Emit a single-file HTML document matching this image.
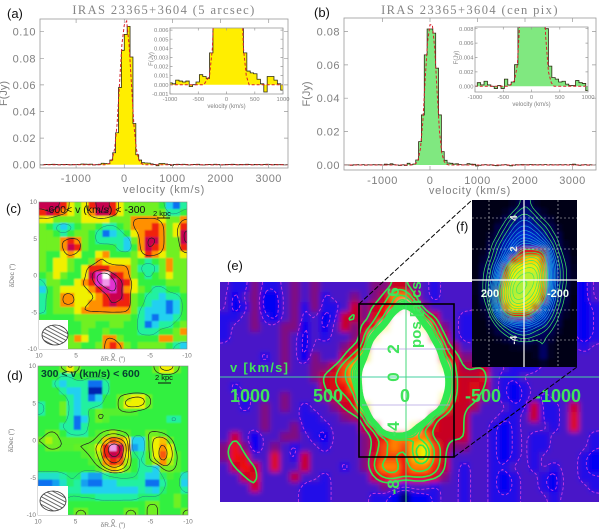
<!DOCTYPE html>
<html lang="en">
<head>
<meta charset="utf-8">
<title>IRAS 23365+3604 spectra and maps</title>
<style>
html,body{margin:0;padding:0;background:#fff;width:600px;height:530px;overflow:hidden}
svg{display:block;font-family:"Liberation Sans",sans-serif}
.idl{font-family:"Liberation Serif",serif;fill:#858585}
.elab{font-weight:bold;fill:#40e45c}
</style>
</head>
<body>
<svg id="root" xmlns="http://www.w3.org/2000/svg" width="600" height="530" viewBox="0 0 600 530">
<defs>
<filter id="blurSmall" filterUnits="userSpaceOnUse" x="-50" y="-50" width="700" height="630"><feGaussianBlur stdDeviation="0.7"/></filter>
<filter id="blurE" filterUnits="userSpaceOnUse" x="-50" y="-50" width="700" height="630"><feGaussianBlur stdDeviation="2.6"/></filter>
<filter id="blurF" filterUnits="userSpaceOnUse" x="-50" y="-50" width="700" height="630"><feGaussianBlur stdDeviation="1.6"/></filter>
<clipPath id="eClip"><rect x="220" y="282" width="379" height="220"/></clipPath>
<pattern id="hatch" patternUnits="userSpaceOnUse" width="3.4" height="3.4" patternTransform="rotate(28)"><line x1="0" y1="1" x2="3.4" y2="1" stroke="#444" stroke-width="0.8"/></pattern>
</defs>
<g id="panelA"></g>
<g id="panelB"></g>
<g id="panelC"></g>
<g id="panelD"></g>
<g id="panelE"></g>

<g clip-path="url(#eClip)">
<line x1="220" y1="377" x2="599" y2="377" stroke="#46d0a0" stroke-width="1"/>
<line x1="406" y1="282" x2="406" y2="502" stroke="#46d878" stroke-width="1"/>
<line x1="362" y1="349" x2="450" y2="349" stroke="#b0a0e0" stroke-width="0.8"/>
<line x1="362" y1="405" x2="450" y2="405" stroke="#b0a0e0" stroke-width="0.8"/>
<text class="elab" x="230" y="372" font-size="13" textLength="58">v [km/s]</text>
<text class="elab" x="250" y="402" font-size="18" text-anchor="middle">1000</text>
<text class="elab" x="328" y="402" font-size="18" text-anchor="middle">500</text>
<text class="elab" x="405" y="402" font-size="18" text-anchor="middle">0</text>
<text class="elab" x="483" y="402" font-size="18" text-anchor="middle">-500</text>
<text class="elab" x="558" y="402" font-size="18" text-anchor="middle">-1000</text>
<text class="elab" font-size="17" text-anchor="middle" transform="translate(399,292) rotate(-90)">6</text>
<text class="elab" font-size="17" text-anchor="middle" transform="translate(399,349) rotate(-90)">2</text>
<text class="elab" font-size="17" text-anchor="middle" transform="translate(399,377) rotate(-90)">0</text>
<text class="elab" font-size="17" text-anchor="middle" transform="translate(399,429) rotate(-90)">-4</text>
<text class="elab" font-size="17" text-anchor="middle" transform="translate(399,487) rotate(-90)">-8</text>
<text class="elab" font-size="15" text-anchor="start" transform="translate(421,348) rotate(-90)">pos [arcsec]</text>
</g>
<g>
<rect x="359" y="304" width="95" height="153" fill="none" stroke="#000" stroke-width="1.6"/>
<line x1="359" y1="304" x2="472" y2="200" stroke="#000" stroke-width="1" stroke-dasharray="5,2"/>
<line x1="454" y1="457" x2="577" y2="367" stroke="#000" stroke-width="1" stroke-dasharray="5,2"/>
</g>

<g id="panelF"></g>

<g>
<line x1="472" y1="280" x2="577" y2="280" stroke="#fff" stroke-width="1.2"/>
<line x1="524" y1="200" x2="524" y2="367" stroke="#fff" stroke-width="1.2"/>
<g stroke="#d8d8d8" stroke-width="0.6" stroke-dasharray="2,2">
<line x1="472" y1="218" x2="577" y2="218"/><line x1="472" y1="249" x2="577" y2="249"/><line x1="472" y1="310" x2="577" y2="310"/><line x1="472" y1="340" x2="577" y2="340"/>
<line x1="489" y1="200" x2="489" y2="367"/><line x1="558" y1="200" x2="558" y2="367"/>
</g>
<text x="490" y="297" fill="#f0fff0" font-size="11" font-weight="bold" text-anchor="middle">200</text>
<text x="558" y="297" fill="#f0fff0" font-size="11" font-weight="bold" text-anchor="middle">-200</text>
<text fill="#e8e8e8" font-size="10" font-weight="bold" text-anchor="middle" transform="translate(517,218) rotate(-90)">4</text>
<text fill="#e8e8e8" font-size="10" font-weight="bold" text-anchor="middle" transform="translate(517,249) rotate(-90)">2</text>
<text fill="#e8e8e8" font-size="10" font-weight="bold" text-anchor="middle" transform="translate(517,340) rotate(-90)">-4</text>
</g>

<g>
<text x="45" y="213" font-size="10.5" fill="#111">-600&lt; v (km/s) &lt; -300</text>
<text x="153" y="216" font-size="7.5" fill="#111">2 kpc</text>
<line x1="157" y1="218" x2="170" y2="218" stroke="#111" stroke-width="1"/>
<rect x="39" y="320" width="29" height="29" fill="#fff"/>
<ellipse cx="55" cy="335" rx="13" ry="10" fill="url(#hatch)" stroke="#333" stroke-width="0.8"/>
</g>
<g>
<text x="41" y="377" font-size="10.5" font-weight="bold" fill="#064030">300 &lt; v (km/s) &lt; 600</text>
<text x="155" y="380" font-size="7.5" fill="#111">2 kpc</text>
<line x1="158" y1="383" x2="171" y2="383" stroke="#111" stroke-width="1"/>
<rect x="38" y="486" width="30" height="29" fill="#fff"/>
<ellipse cx="53" cy="501" rx="13" ry="10" fill="url(#hatch)" stroke="#333" stroke-width="0.8"/>
</g>

<g font-size="13" fill="#111">
<text x="7" y="18">(a)</text>
<text x="314" y="17">(b)</text>
<text x="6" y="213">(c)</text>
<text x="7" y="380">(d)</text>
<text x="227" y="270">(e)</text>
<text x="456" y="231">(f)</text>
</g>
</svg>

<script>
/* ---------- spectra data (Jy), bins start at binStart, width binWidth ---------- */
const binStart = -1800;
const binWidth = 60;
const spectrumA = [.0001,-.0001,.0002,.0001,.0002,.0003,.0001,-.0001,.0001,.0002,.0001,-.0001,.0001,.0002,.0001,.0005,.0004,.0003,.0004,-.0002,.0000,.0003,.0011,.0009,.0007,.0035,.009,.024,.058,.086,.098,.104,.081,.031,.0075,.0035,.0015,.0013,.0012,.0006,.0001,-.0008,.0009,.0009,.0005,.0001,-.0006,.0002,.0003,.0001,.0003,.0002,-.0002,.0001,.0002,.0003,-.0001,-.0002,.0001,.0002,-.0001,.0003,.0001,-.0002,-.0001,.0002,.0001,.0003,.0001,-.0001,.0002,.0000,.0003,.0001,-.0001,.0002,.0001,-.0001,.0002,.0003,.0001,-.0001,.0002,.0000,.0001,-.0001,.0002,.0001,.0000];
const spectrumB = [.0001,.0000,-.0002,.0001,.0002,.0000,.0002,-.0001,.0001,.0001,.0002,.0001,.0002,.0000,.0005,.0002,.0007,.0002,.0000,-.0003,.0001,-.0003,.0010,.0002,.0006,.0030,.014,.030,.066,.0815,.0815,.079,.058,.030,.008,.0028,.0012,.0010,.0006,.0007,.0003,.0001,.0001,.0008,.0005,.0004,-.0006,-.0002,.0001,.0002,-.0001,.0001,-.0003,-.0004,-.0001,.0001,.0002,-.0002,-.0005,-.0001,.0002,.0001,.0003,.0001,.0002,.0003,.0002,.0001,.0002,.0001,.0003,.0000,.0002,.0001,.0001,.0002,.0001,.0002,.0000,.0003,.0005,.0001,-.0002,.0001,.0002,-.0001,.0001,.0000,.0001];
const fitVelocity = [-1800,-400,-300,-250,-200,-150,-100,-50,0,50,100,150,200,250,300,350,400,3500];
const fitA = [0,0,.001,.004,.012,.03,.06,.09,.105,.108,.09,.06,.03,.012,.004,.001,0,0];
const fitB = [0,0,.0008,.003,.010,.026,.052,.074,.084,.084,.07,.044,.02,.007,.002,.0005,0,0];
const mainTicksX = [-1000,0,1000,2000,3000];
const mainTicksYA = [0,.02,.04,.06,.08,.10];
const mainTicksYB = [0,.02,.04,.06,.08];
const insetTicksX = [-1000,-500,0,500,1000];
const insetTicksYA = [-.001,0,.001,.002,.003,.004,.005,.006];
const insetTicksYB = [0,.002,.004,.006,.008];

/* ---------- map c, levels on the colour scale ---------- */
const mapC = [
[9,9,9,8,6,5,6,8,9,9,8,6,5,5,5,5,5,4,2,1,3],
[8,9,8,7,6,5,6,7,9,9,8,6,5,5,5,5,5,5,3,3,4],
[6,6,5,5,5,5,6,6,6,6,5,5,5,7,7,7,7,6,5,5,7],
[5,4,3,2,3,4,5,5,4,3,3,4,5,7,7,7,8,7,5,6,8],
[5,5,4,3,4,5,5,4,3,1,2,3,4,6,7,8,8,7,5,6,9],
[5,5,5,7,8,7,5,4,3,3,3,3,2,5,7,9,9,7,5,5,9],
[5,5,5,7,9,8,5,4,4,4,4,3,2,4,7,9,8,7,5,5,8],
[5,4,4,6,7,6,4,4,6,7,4,4,4,5,6,8,7,6,5,5,6],
[5,4,6,6,5,4,4,5,7,6,6,6,6,5,4,3,4,5,7,5,5],
[5,4,6,6,5,4,6,8,8,8,7,7,7,5,3,3,3,5,7,5,5],
[4,5,6,5,4,4,6,9,10,11,9,8,7,5,4,3,4,5,6,5,5],
[3,5,5,4,4,6,7,8,10,10.5,10,9,8,6,4,4,4,4,5,5,5],
[2,4,5,6,6,6,6,7,8,9.5,10,9,7,6,5,4,3,3,4,4,5],
[3,4,5,7,7,6,6,6,7,8,9,9,8,5,4,3,3,2,3,3,4],
[3,4,5,7,7,6,6,7,7,8,9,8,8,5,4,3,2,2,1,2,4],
[3,4,5,5,5,6,7,7,7,7,7,7,7,5,3,2,2,2,1,2,4],
[4,4,4,4,4,5,5,5,5,5,5,5,5,4,3,2,1,2,2,3,4],
[7,6,5,5,4,4,5,5,4,4,5,5,4,4,3,1,2,3,3,4,5],
[6,5,4,4,4,4,5,4,4,5,4,4,4,4,3,3,3,4,4,5,7],
[5,5,4,4,5,7,6,4,4,7,7,5,4,4,4,4,4,7,7,5,5],
[5,5,4,4,5,5,4,4,5,7,8,7,5,4,5,5,5,5,4,3,2]];

/* ---------- map d ---------- */
const mapD = [
[4,4,4,5,6,5,4,4,4,4,4,4,4,4,4,4,5,6,6,5,4],
[4,4,4,3,3,4,4,4,4,4,4,4,4,4,4,4,4,4,4,4,4],
[4,4,3,2,3,3,3,1,1,3,4,4,4,4,4,4,4,4,4,4,4],
[4,4,4,3,2,2,3,0,0,3,4,4,4,4,4,4,4,4,4,4,4],
[4,4,4,4,3,2,3,1,2,4,4,5,5.5,6,6,5,4,4,4,4,4],
[3,4,4,5,3,2,3,3,3,4,4,5,6,6,6,5,4,4,4,4,4],
[3,4,4,5,3,2,3,4,5,4.6,4.6,4.6,4.6,4.5,4,4,4,4,4,4,4],
[4,4,4,4,3,1,2,4,5,4.6,4,4,4,4,4,4,4,4,3,3,4],
[4,4,4,3,3,1,3,4,4,4,4,4,4,4,4,4,4,4,4,4,4],
[4,5,5,4,3,3,3,4,4.6,5,5.5,5,4.6,4,4,5,5,4.6,4,4,4],
[5,5.5,5,4.6,4.6,4.6,4.6,4.6,5,6.5,7.5,7,6,2,2,5,6,6.5,5,4,4],
[4,5,5,4.6,4.6,4.8,4.8,5,6,8,10.5,9,6.5,1.5,2,5,6,7,6,4,4],
[4,4,4,4,4,4,4.6,4.8,5.5,8,9,8.5,6,3.5,3,4.6,6,7.5,6,4.6,4],
[4,4,4,4,4,4,4,4.6,5,7,8,7.5,5.5,4,3,4.6,5.5,7,5.5,4.6,4],
[4,4,4,4,4,4,4,4,4.6,5.5,6.5,6,5,4,3,3,2,5,5,4.6,4],
[2.5,2.5,2.5,3,3.5,3.5,2,1.5,1.5,3,3.5,3.5,3.5,3.5,3,2,2,3.6,4.4,4,2.5],
[1,1,1.5,2.5,3.5,3,1.5,1,1,2,2,3,3,3,3,1,1,3,4,4,2],
[2,2,2,2.5,3,3,2,2,2,2,2,2,2,2,3,2.5,2,3.5,4,4,3],
[3,3,3,3,3.5,3.5,3.5,3.5,3,3,3,3,3,3,3.5,3.5,3.5,4,4,5,4],
[4,4,4,4,4,4,4,4,4,4,4,4,4,4,4,5,5,4,4,5,4],
[4,4,4,4,4,5,5,4,4,4,4,4,5,5,4,5,5,4,4,4,5]];

/* ---------- map e ---------- */
const mapE = [
[3,2,2,4,2,2,3,4,3,4,3,3,3,3,3,4,4,5,5,4,3,2,3,3,3,3,2,2,2,2,2,2,2,2,2,2,1,3],
[3,1,3,4,1,1,3,4,3,4,2,3,3,4,3,4,5,7,7,5,3,2,3,3,3,3,2,2,2,2,2,2,2,2,2,2,1,3],
[3,1,2,4,1,1,3,4,2,4,2,2,3,5,4,5,6,6.5,9.4,6.5,4,3,3,3,3,3,2,2,2,2,2,2,2,2,2,2,1,2],
[2,2,3,4,2,1,3,4,2,3,1,2,5,5,4,5.5,6,10,12,10.7,6,5,3,3,2,2,2,2,2,2,2,2,2,2,2,2,1,2],
[2,3,3,4,3,3,4,4,1,3,1,3,5,4,5,6,8.7,12,12,12,8.7,6,4,3,2,2,2,2,2,2,2,2,2,2,2,2,1,2],
[2,3,3,3,3,3,4,3,1,3,2,3,3,4,5.5,8.7,12,12,12,12,12,6.8,5,3,2,2,2,2,2,2,2,2,2,2,2,2,1,2],
[3,3,3,3,3,3,4,3,1,3,3,3,4,5,5.5,12,12,12,12,12,12,10,5.5,4.5,3,3,2,2,2,2,2,2,2,2,2,3,2,3],
[3,3,3,3,2,3,4,3,1,4,3,3,5,6,8,12,12,12,12,12,12,12,6.2,5.5,4,4,3,2,2,2,2,2,2,2,2,3,3,3],
[3,3,3,3,3,3,4,3,3,4,4,5,6.5,7.5,9.4,12,12,12,12,12,12,12,8.7,5.5,4.6,4.6,5,3,3,2,2,2,3,3,3,3,3,3],
[3,3,3,3,3,3,3,3,3,4,5,5.5,6.5,7.5,10,12,12,12,12,12,12,12,10,5.5,5,5,5.5,3,2,2,3,3,3,3,3,3,3,3],
[3,2,3,3,3,3,3,3,3,3,5,5.5,6,7,10,12,12,12,12,12,12,12,10,5.5,5,5.5,5,3,2,1,2,3,3,3,3,3,3,3],
[3,3,2,3,3,3,4,3,3,3,4,5,5.5,6,10,12,12,12,12,12,12,12,8.7,5.5,5,5.5,4,3,2,1,2,3,2,3,3,3,3,3],
[3,3,2,3,4,3,4,3,2,3,3,4,5,5.5,8,12,12,12,12,12,12,12,6.8,5,5,4.5,3,3,3,2,2,5,2,2,3,5,3,3],
[3,3,3,3,4,3,3,3,2,2,3,3,4,4.5,5,11.4,12,12,12,12,10.7,5.5,5,5,5,3,3,3,2,2,3,5,2,2,3,5.5,3,3],
[3,3,3,3,4,3,3,4,2,2,2,3,3,3,5,5.5,12,12,12,8.7,6,5.5,5,5,5,3,3,2,1,2,3,3,3,2,3,5.5,3,3],
[3,5,3,1,3,3,4,4,3,2,1,3,3,3,4,5,6,7,7,7,7,5,5,5,5,3,3,2,1,2,3,2,2,3,3,3,3,2],
[4,6,4,1,3,4,3,2,3,3,2,3,3,3,4,5,6.5,7,6.5,7.5,8,6.5,5,4,4,3,3,2,1,2,3,2,2,3,3,3,3,2],
[4,6,5.5,3,3,5.5,3,2,5,3,3,3,3,3,4,5.5,6.5,6.5,6,7.5,8,6.5,5,3,3,3,3,2,1,2,3,2,3,3,3,3,2,1],
[3,5,6,5,3,5.5,3,3,5,3,3,3,2,3,4,6,7,7,6,7,7,6.2,5,3,2,3,3,2,2,3,3,2,3,2,3,3,2,1],
[3,3,5,5.5,3,3,3,4.8,3,3,2,3,3,3,3,5,6,6.5,6,6,6,5.5,4,3,2,3,3,2,1,2,3,3,2,1,3,3,2,2],
[3,3,3,5.2,3,3,3,3,2,2,2,3,3,3,3,3,4,3,2,3,3,2,3,3,2,3,3,2,1,2,3,3,2,1,3,3,3,2],
[3,3,3,3,3,3,3,3,2,2,2,3,3,3,3,2,2,1,0,1,1,2,3,3,2,3,3,2,2,2,3,3,3,2,3,3,3,3]];

/* ---------- map f ---------- */
const mapF = [
[0,0,0,0,0,.3,1,1.2,.3,0,0,0,0,0],
[0,0,0,0,.3,1,1.4,1.4,1,.4,0,0,0,0],
[0,0,0,.2,1,1.4,1.8,1.8,1.4,1,.5,0,0,0],
[0,0,0,.8,1.2,1.8,2.2,2.2,1.8,1.4,1,.3,0,0],
[0,0,.4,1,1.6,2.2,2.8,2.8,2.4,1.8,1.2,.8,0,0],
[0,0,.8,1.4,2,2.8,3.6,3.6,3.2,2.4,1.6,1,.2,0],
[0,.2,1,1.6,2.4,3.4,4.8,5,5,4.8,2,1.2,.6,0],
[0,.5,1.2,1.8,3,5,6,7,7,5.5,2.6,1.4,.8,.1],
[0,.8,1.4,2.4,4.8,7,8,8.4,8.2,6.2,3,1.6,1,.2],
[0,1,1.4,3,5.5,8,9,9.2,9,6.6,3,1.6,1,.3],
[.1,1,1.6,4,6.5,9,9.6,9.4,8.8,6.4,3,1.6,1,.2],
[.1,1,1.6,4.6,7,9.4,9.6,9,8.2,6,2.8,1.4,.9,.1],
[0,.9,1.4,4.4,6.8,9,9,8.4,7.4,5,2.4,1.4,.8,0],
[0,.6,1.2,3.6,6,7.6,7.6,7,5.6,3.4,2,1.2,.6,0],
[0,.2,1,2,4.4,5,5,4.8,3.6,2.6,1.6,1,.3,0],
[0,0,.6,1.2,1.8,2.4,2.6,2.6,2.2,1.8,1.2,.8,0,0],
[0,0,.2,.8,1.2,1.6,1.8,1.8,1.4,1.2,1,.4,0,0],
[0,0,0,.2,.6,1,1.2,1.2,1,1,.6,0,0,0],
[0,0,0,0,0,.2,.3,.4,.2,1.2,.2,0,0,0],
[0,0,0,0,0,0,0,0,.2,1.2,.2,0,0,0],
[0,0,0,0,0,0,0,0,0,.4,0,0,0,0]];

const mapTicks = [10,5,0,-5,-10];
const levelsCBlack = [6.5,8.5,9.5];
const levelsCCyan = [3.5];
const levelsDBlack = [4.7,5.5,6.5,7.5,8.5,9.5];
const levelsDCyan = [3.4];
const levelsEMagenta = [1.8,2.6];
const levelsEGreen = [4.7,5.6,6.5,7.2,7.5,7.8,8.1,8.4,8.7,9];
const levelsFGreen = [.9,1.2,1.5,4.6,5.2,5.8,6.4,7,7.6,8.2,8.8,9.3];
const levelsFCyan = [1.8,2.1,2.4,2.7,3,3.3,3.6,4,4.3];

const NS = 'http://www.w3.org/2000/svg';
function mk(tag, attrs, parent){
  const el = document.createElementNS(NS, tag);
  for (const k in attrs) el.setAttribute(k, attrs[k]);
  if (parent) parent.appendChild(el);
  return el;
}
function hex(c){return [parseInt(c.slice(1,3),16),parseInt(c.slice(3,5),16),parseInt(c.slice(5,7),16)];}
function scale(stops){
  const rgb = stops.map(hex);
  return function(v){
    const t = Math.max(0, Math.min(rgb.length-1, v));
    const a = Math.floor(t), b = Math.min(rgb.length-1, a+1), f = t-a;
    return 'rgb('+[0,1,2].map(i=>Math.round(rgb[a][i]+(rgb[b][i]-rgb[a][i])*f)).join(',')+')';
  };
}
const colorsCD = scale(['#0020b0','#1070f0','#20d0f0','#20f0a0','#30f040','#70f020','#f0f000','#ff9000','#f02010','#c80050','#e030d0','#ffffff']);
const colorsE = scale(['#00006a','#0404f4','#2010e8','#4814c8','#801080','#c80020','#f01010','#ff8000','#f0f000','#ffffff','#ffffff']);
const colorsF = scale(['#000014','#000050','#0018b0','#0030e0','#0820a0','#e02010','#ff7000','#ffd000','#f0f000','#c0f030','#a0f040']);

/* field smoothing (bilinear up-sample followed by box passes) for contouring */
function upsample(grid, k){
  const R = grid.length, C = grid[0].length;
  const nx = C*k+1, ny = R*k+1;
  let f = [];
  for (let j=0;j<ny;j++){
    const row = [];
    const v = Math.max(0, Math.min(R-1, -0.5+j/k));
    const j0 = Math.floor(v), j1 = Math.min(R-1,j0+1), fy = v-j0;
    for (let i=0;i<nx;i++){
      const u = Math.max(0, Math.min(C-1, -0.5+i/k));
      const i0 = Math.floor(u), i1 = Math.min(C-1,i0+1), fx = u-i0;
      row.push((grid[j0][i0]*(1-fx)+grid[j0][i1]*fx)*(1-fy)+(grid[j1][i0]*(1-fx)+grid[j1][i1]*fx)*fy);
    }
    f.push(row);
  }
  for (let pass=0;pass<2;pass++){
    const g = [];
    for (let j=0;j<ny;j++){
      const row = [];
      for (let i=0;i<nx;i++){
        let s=0,n=0;
        for (let b=-1;b<=1;b++) for (let a=-1;a<=1;a++){
          const y=j+b,x=i+a;
          if (y>=0&&y<ny&&x>=0&&x<nx){s+=f[y][x];n++;}
        }
        row.push(s/n);
      }
      g.push(row);
    }
    f = g;
  }
  return f;
}
function contourPath(f, level, px, py){
  const ny = f.length, nx = f[0].length, W = nx+1;
  const pts = new Map(), adj = new Map();
  const h=(i,j)=>2*(j*W+i), v=(i,j)=>2*(j*W+i)+1;
  function cross(id,a,b,x1,y1,x2,y2){
    if ((a>=level)===(b>=level)) return false;
    const t=(level-a)/(b-a);
    if (!pts.has(id)) pts.set(id,[x1+(x2-x1)*t,y1+(y2-y1)*t]);
    return true;
  }
  function link(a,b){
    if(!adj.has(a))adj.set(a,[]);
    if(!adj.has(b))adj.set(b,[]);
    adj.get(a).push(b);adj.get(b).push(a);
  }
  for (let j=0;j<ny-1;j++) for (let i=0;i<nx-1;i++){
    const tl=f[j][i],tr=f[j][i+1],br=f[j+1][i+1],bl=f[j+1][i];
    const e=[];
    if(cross(h(i,j),tl,tr,i,j,i+1,j))e.push(h(i,j));
    if(cross(v(i+1,j),tr,br,i+1,j,i+1,j+1))e.push(v(i+1,j));
    if(cross(h(i,j+1),bl,br,i,j+1,i+1,j+1))e.push(h(i,j+1));
    if(cross(v(i,j),tl,bl,i,j,i,j+1))e.push(v(i,j));
    if(e.length===2)link(e[0],e[1]);
    else if(e.length===4){
      const c=(tl+tr+br+bl)/4;
      if((c>=level)===(tl>=level)){link(e[0],e[1]);link(e[2],e[3]);}
      else{link(e[0],e[3]);link(e[1],e[2]);}
    }
  }
  const seen=new Set();
  let d='';
  function trace(start){
    let cur=start,prev=null;
    const seq=[];
    while(cur!==undefined&&!seen.has(cur)){
      seen.add(cur);
      seq.push(cur);
      const nb=adj.get(cur);
      let nxt;
      for(const n of nb){ if(n!==prev&&!seen.has(n)){nxt=n;break;} }
      prev=cur;cur=nxt;
    }
    d+=seq.map((id,k)=>{const p=pts.get(id);return (k?'L':'M')+px(p[0]).toFixed(1)+' '+py(p[1]).toFixed(1);}).join('');
  }
  adj.forEach((nb,id)=>{if(nb.length===1&&!seen.has(id))trace(id);});
  adj.forEach((nb,id)=>{if(!seen.has(id)){const first=id;trace(id);const p=pts.get(first);d+='L'+px(p[0]).toFixed(1)+' '+py(p[1]).toFixed(1);}});
  return d;
}

let clipCount = 0;
function clipFor(x,y,w,h){
  const id='clip'+(clipCount++);
  const cp=mk('clipPath',{id:id},document.querySelector('defs'));
  mk('rect',{x:x,y:y,width:w,height:h},cp);
  return 'url(#'+id+')';
}

/* draw a heat map: one rect per grid value, plus contours */
function drawMap(parent, grid, box, colors, blurId, contours){
  const R=grid.length, C=grid[0].length;
  const cw=box.w/C, ch=box.h/R;
  const clip=mk('g',{'clip-path':clipFor(box.x,box.y,box.w,box.h)},parent);
  
  
  const cells=mk('g',{filter:'url(#'+blurId+')'},clip);
  
  
  const ext=12;
  for(let j=0;j<R;j++) for(let i=0;i<C;i++){
    const l=i===0?ext:0,r=i===C-1?ext:0,t=j===0?ext:0,b=j===R-1?ext:0;
    const cell=mk('rect',{x:(box.x+i*cw-l).toFixed(2),y:(box.y+j*ch-t).toFixed(2),width:(cw+l+r+.4).toFixed(2),height:(ch+t+b+.4).toFixed(2),fill:colors(grid[j][i])},cells);
    
    
  }
  const k=3;
  const f=upsample(grid,k);
  const px=u=>box.x+u/k*cw, py=v=>box.y+v/k*ch;
  contours.forEach(c=>{
    c.levels.forEach(level=>{
      const d=contourPath(f,level,px,py);
      const line=mk('path',{d:d,fill:'none',stroke:c.color,'stroke-width':c.width,'stroke-dasharray':c.dash||'none','stroke-linejoin':'round'},clip);
      
      
    });
  });
}

function drawMapAxes(parent, box, yTitle, xTitle){
  const toX=v=>box.x+(10-v)/20*box.w, toY=v=>box.y+(10-v)/20*box.h;
  const frame=mk('rect',{x:box.x,y:box.y,width:box.w,height:box.h,fill:'none',stroke:'#888','stroke-width':.6},parent);
  
  
  mapTicks.forEach(t=>{
    const a=mk('text',{x:toX(t),y:box.y+box.h+8.5,'font-size':6.5,fill:'#777','text-anchor':'middle'},parent);
    a.textContent=String(t);
    
    
    const b=mk('text',{x:box.x-2,y:toY(t)+2,'font-size':6.5,fill:'#777','text-anchor':'end'},parent);
    b.textContent=String(t);
    
    
  });
  const xt=mk('text',{x:toX(0),y:box.y+box.h+12,'font-size':6.5,fill:'#777','text-anchor':'middle'},parent);
  xt.textContent=xTitle;
  
  
  const yt=mk('text',{'font-size':6.5,fill:'#777','text-anchor':'middle',transform:'translate('+(box.x-25)+','+toY(0)+') rotate(-90)'},parent);
  yt.textContent=yTitle;
  
  
}

/* spectrum plot */
function stepPath(values, toX, toY){
  let d='M'+toX(binStart).toFixed(2)+' '+toY(0).toFixed(2);
  values.forEach((val,k)=>{
    const a=binStart+k*binWidth;
    d+='L'+toX(a).toFixed(2)+' '+toY(val).toFixed(2)+'L'+toX(a+binWidth).toFixed(2)+' '+toY(val).toFixed(2);
  });
  return d;
}
function drawSpectrum(parent, o){
  const toX=v=>o.x+(v-o.xMin)/(o.xMax-o.xMin)*o.w;
  const toY=v=>o.y0-v*o.yScale;
  if(o.inset){
    const bg=mk('rect',{x:o.x,y:o.y,width:o.w,height:o.h,fill:'#fff'},parent);
    
    
  }
  const plot=mk('g',{'clip-path':clipFor(o.x,o.y,o.w,o.h)},parent);
  
  
  const endX=binStart+o.values.length*binWidth;
  const fill=mk('path',{d:stepPath(o.values,toX,toY)+'L'+toX(endX).toFixed(2)+' '+toY(0).toFixed(2)+'Z',fill:o.fill,stroke:'none'},plot);
  
  
  const line=mk('path',{d:stepPath(o.values,toX,toY),fill:'none',stroke:'#2e2a10','stroke-width':.8},plot);
  
  
  const fit=mk('path',{d:o.fitV.map((v,k)=>(k?'L':'M')+toX(v).toFixed(2)+' '+toY(o.fit[k]).toFixed(2)).join(''),fill:'none',stroke:'#d8202c','stroke-width':1,'stroke-dasharray':'3,2'},plot);
  
  
  const frame=mk('rect',{x:o.x,y:o.y,width:o.w,height:o.h,fill:'none',stroke:'#999','stroke-width':.8},parent);
  
  
  let tickD='';
  const tl=o.inset?2.5:4;
  o.ticksX.forEach(t=>{
    const x=toX(t).toFixed(1);
    tickD+='M'+x+' '+(o.y+o.h)+'v-'+tl+'M'+x+' '+o.y+'v'+tl;
    const lab=mk('text',{x:x,y:o.y+o.h+o.xLabelDy,'font-size':o.fontSize,fill:'#808080','text-anchor':'middle','letter-spacing':o.inset?0:.5},parent);
    lab.textContent=String(t);
    
    
  });
  o.ticksY.forEach(t=>{
    const y=toY(t).toFixed(1);
    tickD+='M'+o.x+' '+y+'h'+tl+'M'+(o.x+o.w)+' '+y+'h-'+tl;
    const lab=mk('text',{x:o.x-(o.inset?1.5:4),y:+y+o.fontSize*.36,'font-size':o.fontSize,fill:'#808080','text-anchor':'end','letter-spacing':o.inset?0:.5},parent);
    lab.textContent=t.toFixed(o.yDigits);
    
    
  });
  const ticks=mk('path',{d:tickD,fill:'none',stroke:'#999','stroke-width':.7},parent);
  
  
  const xt=mk('text',{x:o.x+o.w*o.xTitlePos,y:o.y+o.h+o.xTitleDy,'font-size':o.titleSize,fill:'#808080','text-anchor':'middle','letter-spacing':o.inset?0:.8},parent);
  xt.textContent='velocity (km/s)';
  
  
  const yt=mk('text',{'font-size':o.titleSize,fill:'#808080','text-anchor':'middle',transform:'translate('+(o.x+o.yTitleDx)+','+((o.y+o.h/2+(o.inset?-2:0)))+') rotate(-90)'},parent);
  yt.textContent='F(Jy)';
  
  
}
function title(parent,x,str){
  const t=mk('text',{x:x,y:14,'font-size':12.5,'text-anchor':'middle','letter-spacing':1.4,class:'idl'},parent);
  t.textContent=str;
  
  
}

const pA=document.getElementById('panelA'), pB=document.getElementById('panelB');
title(pA,164,'IRAS 23365+3604 (5 arcsec)');
title(pB,470,'IRAS 23365+3604 (cen pix)');
drawSpectrum(pA,{x:40,y:19,w:248,h:149,xMin:-1750,xMax:3400,y0:164.7,yScale:1330,values:spectrumA,fit:fitA,fitV:fitVelocity,fill:'#ffee00',ticksX:mainTicksX,ticksY:mainTicksYA,yDigits:2,fontSize:11,titleSize:11,xLabelDy:14,xTitleDy:25,xTitlePos:.5,yTitleDx:-33});
drawSpectrum(pA,{inset:true,x:170,y:28,w:113,h:66,xMin:-1000,xMax:1000,y0:84.7,yScale:9100,values:spectrumA,fit:fitA,fitV:fitVelocity,fill:'#ffee00',ticksX:insetTicksX,ticksY:insetTicksYA,yDigits:3,fontSize:5.8,titleSize:6,xLabelDy:7,xTitleDy:14,xTitlePos:.5,yTitleDx:-17});
drawSpectrum(pB,{x:344,y:18,w:252,h:152,xMin:-1810,xMax:3495,y0:165,yScale:1669,values:spectrumB,fit:fitB,fitV:fitVelocity,fill:'#80e880',ticksX:mainTicksX,ticksY:mainTicksYB,yDigits:2,fontSize:11,titleSize:11,xLabelDy:14,xTitleDy:24,xTitlePos:.5,yTitleDx:-34});
drawSpectrum(pB,{inset:true,x:475,y:27,w:113,h:65,xMin:-1000,xMax:1000,y0:86.3,yScale:7200,values:spectrumB,fit:fitB,fitV:fitVelocity,fill:'#80e880',ticksX:insetTicksX,ticksY:insetTicksYB,yDigits:3,fontSize:5.8,titleSize:6,xLabelDy:7,xTitleDy:14,xTitlePos:.5,yTitleDx:-17});

const boxC={x:39,y:202,w:148,h:147}, boxD={x:38,y:366,w:150,h:149};
const pC=document.getElementById('panelC'), pD=document.getElementById('panelD');
drawMap(pC,mapC,boxC,colorsCD,'blurSmall',[{levels:levelsCCyan,color:'#208080',width:.5},{levels:levelsCBlack,color:'#222',width:.7}]);
drawMapAxes(pC,boxC,'δDec (″)','δR.A. (″)');
drawMap(pD,mapD,boxD,colorsCD,'blurSmall',[{levels:levelsDCyan,color:'#208080',width:.5},{levels:levelsDBlack,color:'#222',width:.7}]);
drawMapAxes(pD,boxD,'δDec (″)','δR.A. (″)');

const boxE={x:220,y:282,w:379,h:220}, boxF={x:472,y:200,w:105,h:167};
drawMap(document.getElementById('panelE'),mapE,boxE,colorsE,'blurE',[{levels:levelsEMagenta,color:'#c838e0',width:.9,dash:'3,2'},{levels:levelsEGreen,color:'#30e850',width:1.6}]);
drawMap(document.getElementById('panelF'),mapF,boxF,colorsF,'blurF',[{levels:levelsFCyan,color:'#20b0d8',width:.6},{levels:levelsFGreen,color:'#40e860',width:.7}]);
</script>
</body>
</html>
